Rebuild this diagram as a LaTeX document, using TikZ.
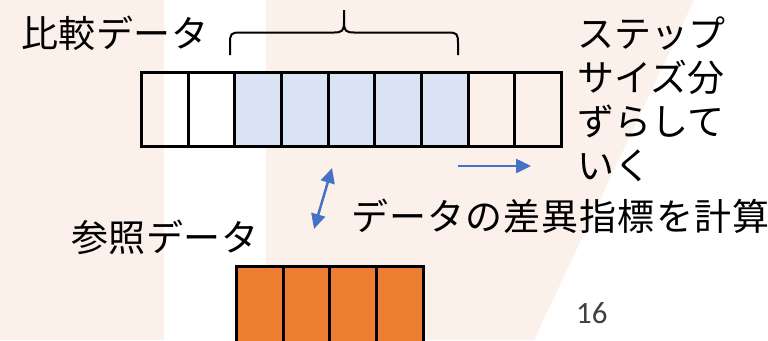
\documentclass[tikz,border=0pt]{standalone}
\usepackage{fontspec}
\usetikzlibrary{arrows.meta}
\newfontfamily\jpfont{Noto Sans CJK JP}
\newfontfamily\numfont{Carlito}
\definecolor{bgpink}{RGB}{251,240,234}
\definecolor{cellblue}{RGB}{218,227,243}
\definecolor{cellorange}{RGB}{237,125,49}
\definecolor{arrowblue}{RGB}{68,114,196}
\definecolor{numgray}{RGB}{64,64,64}
\tikzset{
  cell/.style={draw=black, line width=3pt, minimum width=46.67pt, minimum height=74pt,
    inner sep=0pt, outer sep=0pt, anchor=north west},
  bluecell/.style={cell, fill=cellblue},
  orangecell/.style={cell, fill=cellorange},
  jplabel/.style={font=\jpfont\fontsize{37}{44}\selectfont, inner sep=0pt, anchor=base west, text=black},
  bluearrow/.style={draw=arrowblue, line width=2.5pt, -{Triangle[length=15pt,width=14pt]}},
  bluedarrow/.style={draw=arrowblue, line width=2.5pt, {Triangle[length=15pt,width=14pt]}-{Triangle[length=15pt,width=14pt]}},
  bracepath/.style={draw=black, line width=2pt}
}
\begin{document}
\begin{tikzpicture}[x=1pt,y=-1pt]
\clip (0,0) rectangle (768,340);
% background
\fill[bgpink] (0,0) rectangle (164,340);
\fill[bgpink] (266,0) -- (694,0) -- (534,340) -- (266,340) -- cycle;
% top row cells
\node[cell] (c1) at (141.5,72.5) {};
\node[cell] (c2) at (c1.north east) {};
\node[bluecell] (c3) at (c2.north east) {};
\node[bluecell] (c4) at (c3.north east) {};
\node[bluecell] (c5) at (c4.north east) {};
\node[bluecell] (c6) at (c5.north east) {};
\node[bluecell] (c7) at (c6.north east) {};
\node[cell] (c8) at (c7.north east) {};
\node[cell] (c9) at (c8.north east) {};
% bottom row cells
\node[orangecell, minimum height=100pt] (r1) at (236.5,266.5) {};
\node[orangecell, minimum height=100pt] (r2) at (r1.north east) {};
\node[orangecell, minimum height=100pt] (r3) at (r2.north east) {};
\node[orangecell, minimum height=100pt] (r4) at (r3.north east) {};
% brace
\coordinate (bl) at (230,55);
\coordinate (bt) at (344,10);
\coordinate (br) at (458,55);
\draw[bracepath] (bl) -- (230,43) .. controls (230,34) and (231,32.5) .. (240,32.5)
  -- (334,32.5) .. controls (342,32.5) and (344,31) .. (344,22) -- (bt);
\draw[bracepath] (br) -- (458,43) .. controls (458,34) and (457,32.5) .. (448,32.5)
  -- (354,32.5) .. controls (346,32.5) and (344,31) .. (344,22);
% labels
\node[jplabel] (hikaku) at (21,47) {\addfontfeature{LetterSpace=1.5}比較データ};
\node[jplabel] (sansho) at (71,251) {\addfontfeature{LetterSpace=1.5}参照データ};
\node[jplabel] (sai) at (351,230) {\addfontfeature{LetterSpace=3}データの差異指標を計算};
\node[jplabel] (s1) at (577,47) {ステップ};
\node[jplabel] (s2) at (577,91) {サイズ分};
\node[jplabel] (s3) at (577,135) {ずらして};
\node[jplabel] (s4) at (577,179) {いく};
\node[font=\numfont\fontsize{31}{36}\selectfont, text=numgray, inner sep=0pt, anchor=base west] (page) at (576,323) {16};
% arrows
\coordinate (ra) at (458,166);
\coordinate (rb) at (531,166);
\draw[bluearrow] (ra) -- (rb);
\coordinate (da) at (332,168);
\coordinate (db) at (314,229);
\draw[bluedarrow] (da) -- (db);
\end{tikzpicture}
\end{document}
